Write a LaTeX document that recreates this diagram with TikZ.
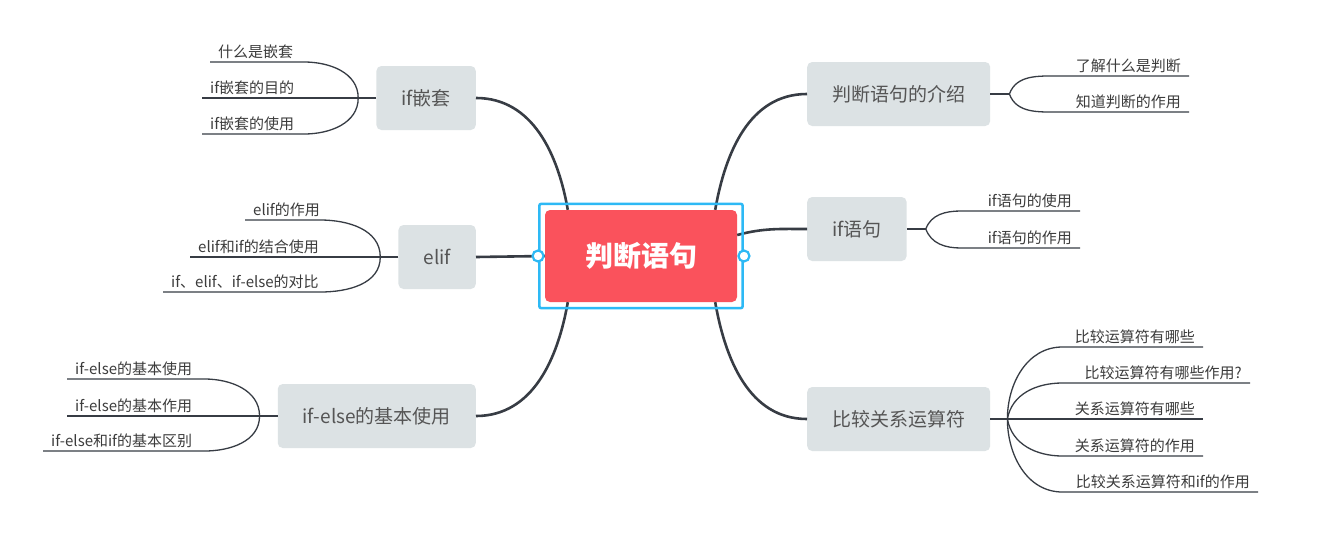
\documentclass[tikz,border=0pt]{standalone}
\usepackage{fontspec}
\setmainfont{Noto Sans CJK SC}
\usepackage{tikz}
\usetikzlibrary{positioning,fit,calc}

\definecolor{centralred}{RGB}{250,82,92}
\definecolor{frameblue}{RGB}{45,185,245}
\definecolor{topicgray}{RGB}{220,226,228}
\definecolor{topictext}{RGB}{85,85,85}
\definecolor{leaftext}{RGB}{60,60,60}
\definecolor{linegray}{RGB}{55,60,68}

\begin{document}
\begin{tikzpicture}[
  x=1pt, y=-1pt,
  central/.style={rectangle, fill=centralred, rounded corners=5pt, minimum width=192pt, minimum height=92pt, text=white, font=\fontsize{28}{32}\selectfont\bfseries},
  selframe/.style={rectangle, draw=frameblue, line width=2.5pt, rounded corners=2pt, inner xsep=5.5pt, inner ysep=6pt},
  handle/.style={circle, draw=frameblue, fill=white, line width=2.2pt, inner sep=0pt, minimum size=11pt},
  topic/.style={rectangle, fill=topicgray, rounded corners=5pt, minimum height=64pt, inner xsep=25pt, text=topictext, font=\fontsize{19}{22}\selectfont},
  leaf/.style={inner xsep=8pt, inner ysep=3pt, text=leaftext, font=\fontsize{15}{18}\selectfont},
  mainline/.style={draw=linegray, line width=2.6pt},
  stemline/.style={draw=linegray, line width=2pt},
  leafline/.style={draw=linegray, line width=1.3pt}
]
\path[use as bounding box, fill=white] (0,0) rectangle (1325,549);

% centre and main topics
\node[central] (central) at (641,256) {判断语句};
\node[topic, anchor=east] (nest) at (476,98) {if嵌套};
\node[topic, anchor=east] (elif) at (476,257) {elif};
\node[topic, anchor=east] (ifelse) at (476,416) {if-else的基本使用};
\node[topic, anchor=west] (intro) at (807,94) {判断语句的介绍};
\node[topic, anchor=west] (ifst) at (807,229) {if语句};
\node[topic, anchor=west] (cmp) at (807,419) {比较关系运算符};

\draw[mainline] ($(central.north west)+(23pt,0)$) to[out=100,in=0] (nest.east);
\draw[mainline] (elif.east) -- (central.west);
\draw[mainline] ($(central.south west)+(23pt,0)$) to[out=-100,in=0] (ifelse.east);
\draw[mainline] ($(central.north east)+(-22pt,0)$) to[out=80,in=180] (intro.west);
\draw[mainline] ($(central.east)+(0,21pt)$) to[out=15,in=180] (ifst.west);
\draw[mainline] ($(central.south east)+(-22pt,0)$) to[out=-80,in=180] (cmp.west);

% junctions
\coordinate (nestj) at ($(nest.west)+(-18pt,0)$);
\coordinate (elifj) at ($(elif.west)+(-18pt,0)$);
\coordinate (ifelsej) at ($(ifelse.west)+(-18pt,0)$);
\coordinate (introj) at ($(intro.east)+(19pt,0)$);
\coordinate (ifstj) at ($(ifst.east)+(19pt,0)$);
\coordinate (cmpj) at ($(cmp.east)+(17pt,0)$);
\draw[stemline] (nest.west) -- (nestj);
\draw[stemline] (elif.west) -- (elifj);
\draw[stemline] (ifelse.west) -- (ifelsej);
\draw[stemline] (intro.east) -- (introj);
\draw[stemline] (ifst.east) -- (ifstj);
\draw[stemline] (cmp.east) -- (cmpj);

% if嵌套
\node[leaf, anchor=south west] (nest1) at (210,62) {什么是嵌套};
\node[leaf, anchor=south west] (nest2) at (202,98) {if嵌套的目的};
\node[leaf, anchor=south west] (nest3) at (202,134) {if嵌套的使用};
\draw[leafline] (nestj) to[out=90,in=0] ++(-54pt,36pt) -- (nest1.south west);
\draw[leafline] (nestj) -- (nest2.south west);
\draw[leafline] (nestj) to[out=-90,in=0] ++(-54pt,-36pt) -- (nest3.south west);

% elif
\node[leaf, anchor=south west] (elif1) at (245,220) {elif的作用};
\node[leaf, anchor=south west] (elif2) at (190,257) {elif和if的结合使用};
\node[leaf, anchor=south west] (elif3) at (163,292) {if、elif、if-else的对比};
\draw[leafline] (elifj) to[out=90,in=0] ++(-60pt,37pt) -- (elif1.south west);
\draw[leafline] (elifj) -- (elif2.south west);
\draw[leafline] (elifj) to[out=-90,in=0] ++(-60pt,-35pt) -- (elif3.south west);

% if-else
\node[leaf, anchor=south west] (ifelse1) at (67,379) {if-else的基本使用};
\node[leaf, anchor=south west] (ifelse2) at (67,416) {if-else的基本作用};
\node[leaf, anchor=south west] (ifelse3) at (43,451) {if-else和if的基本区别};
\draw[leafline] (ifelsej) to[out=90,in=0] ++(-55pt,37pt) -- (ifelse1.south west);
\draw[leafline] (ifelsej) -- (ifelse2.south west);
\draw[leafline] (ifelsej) to[out=-90,in=0] ++(-55pt,-35pt) -- (ifelse3.south west);

% 判断语句的介绍
\node[leaf, anchor=south east] (intro1) at (1189,76) {了解什么是判断};
\node[leaf, anchor=south east] (intro2) at (1189,112) {知道判断的作用};
\draw[leafline] (introj) to[out=70,in=180] ++(50pt,18pt) -- (intro1.south east);
\draw[leafline] (introj) to[out=-70,in=180] ++(50pt,-18pt) -- (intro2.south east);

% if语句
\node[leaf, anchor=south east] (ifst1) at (1080,211) {if语句的使用};
\node[leaf, anchor=south east] (ifst2) at (1080,248) {if语句的作用};
\draw[leafline] (ifstj) to[out=70,in=180] ++(35pt,18pt) -- (ifst1.south east);
\draw[leafline] (ifstj) to[out=-70,in=180] ++(35pt,-19pt) -- (ifst2.south east);

% 比较关系运算符
\node[leaf, anchor=south east] (cmp1) at (1203,347) {比较运算符有哪些};
\node[leaf, anchor=south east] (cmp2) at (1250,383) {比较运算符有哪些作用?};
\node[leaf, anchor=south east] (cmp3) at (1203,419) {关系运算符有哪些};
\node[leaf, anchor=south east] (cmp4) at (1203,456) {关系运算符的作用};
\node[leaf, anchor=south east] (cmp5) at (1258,492) {比较关系运算符和if的作用};
\draw[leafline] (cmpj) to[out=90,in=180] ++(55pt,72pt) -- (cmp1.south east);
\draw[leafline] (cmpj) to[out=80,in=180] ++(55pt,36pt) -- (cmp2.south east);
\draw[leafline] (cmpj) -- (cmp3.south east);
\draw[leafline] (cmpj) to[out=-80,in=180] ++(55pt,-37pt) -- (cmp4.south east);
\draw[leafline] (cmpj) to[out=-90,in=180] ++(55pt,-73pt) -- (cmp5.south east);

% selection frame
\node[selframe, fit=(central)] (frame) {};
\node[handle] (hleft) at (frame.west) {};
\node[handle] (hright) at (frame.east) {};
\end{tikzpicture}
\end{document}
